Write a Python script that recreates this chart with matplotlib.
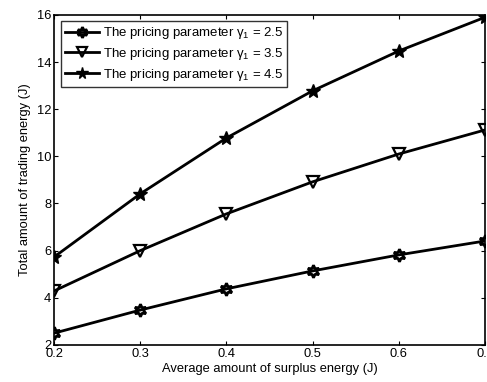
import matplotlib
matplotlib.use("Agg")
import matplotlib.pyplot as plt

# Dữ liệu
x_vals = [0.2, 0.3, 0.4, 0.5, 0.6, 0.7]
y_g25 = [2.5, 3.48, 4.38, 5.14, 5.82, 6.41]
y_g35 = [4.29, 6.0, 7.56, 8.92, 10.1, 11.12]
y_g45 = [5.73, 8.41, 10.78, 12.78, 14.47, 15.9]
labels = [r"The pricing parameter $\gamma_1$ = 2.5",
          r"The pricing parameter $\gamma_1$ = 3.5",
          r"The pricing parameter $\gamma_1$ = 4.5"]

plt.rcParams["font.family"] = ["Liberation Sans", "DejaVu Sans"]
plt.rcParams["mathtext.fontset"] = "custom"
plt.rcParams["mathtext.rm"] = "Liberation Sans"
plt.rcParams["mathtext.it"] = "Liberation Sans"

fig = plt.figure(figsize=(4.87, 3.82), dpi=100)
ax = fig.add_axes([0.111, 0.097, 0.885, 0.864])

ax.plot(x_vals, y_g25, color="black", lw=2, marker=(6, 1, 0), ms=9,
        mfc="none", mec="black", mew=2, label=labels[0])
ax.plot(x_vals, y_g35, color="black", lw=2, marker="v", ms=9,
        mfc="none", mec="black", mew=1.6, label=labels[1])
ax.plot(x_vals, y_g45, color="black", lw=2, marker="*", ms=10,
        mfc="black", mec="black", label=labels[2])

ax.set_xlim(0.2, 0.7)
ax.set_ylim(2, 16)
ax.set_xticks([0.2, 0.3, 0.4, 0.5, 0.6, 0.7])
ax.set_yticks([2, 4, 6, 8, 10, 12, 14, 16])
ax.tick_params(direction="in", labelsize=9.3, length=3, top=True, right=True, pad=2)
for s in ax.spines.values():
    s.set_linewidth(1.2)
ax.set_xlabel("Average amount of surplus energy (J)", fontsize=9.3, labelpad=2)
ax.set_ylabel("Total amount of trading energy (J)", fontsize=9.3, labelpad=4)

leg = ax.legend(loc="upper left", fontsize=9.5, frameon=True, fancybox=False,
                edgecolor="black", handlelength=2.6, handletextpad=0.3,
                borderpad=0.3, labelspacing=0.35, borderaxespad=0.5,
                markerscale=0.85)
leg.get_frame().set_linewidth(1.0)

fig.savefig("out.png", dpi=100)
